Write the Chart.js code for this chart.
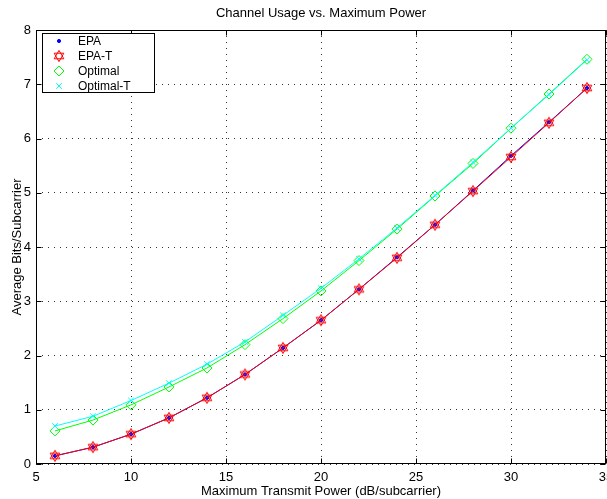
<!DOCTYPE html>
<html lang="en">
<head>
<meta charset="UTF-8">
<title>Channel Usage vs. Maximum Power</title>
<script src="https://cdn.jsdelivr.net/npm/chart.js"></script>
<style>
    body{ margin:0; padding:0; background:#fff; }
    .wrap{ width:607px; height:499px; }
</style>
</head>
<body>
<div class="wrap"><canvas id="chart" width="607" height="499"></canvas></div>
<script>
/* data */
const powerDb   = [6, 8, 10, 12, 14, 16, 18, 20, 22, 24, 26, 28, 30, 32, 34];
const epa       = [0.15, 0.31, 0.55, 0.85, 1.22, 1.65, 2.14, 2.65, 3.22, 3.81, 4.41, 5.04, 5.68, 6.30, 6.93];
const epaT      = [0.15, 0.31, 0.55, 0.85, 1.22, 1.65, 2.14, 2.65, 3.22, 3.80, 4.41, 5.03, 5.66, 6.29, 6.93];
const optimal   = [0.61, 0.81, 1.09, 1.42, 1.77, 2.20, 2.68, 3.19, 3.75, 4.33, 4.94, 5.54, 6.19, 6.82, 7.46];
const optimalT  = [0.70, 0.88, 1.17, 1.49, 1.84, 2.25, 2.74, 3.24, 3.78, 4.35, 4.95, 5.56, 6.19, 6.81, 7.45];
const xTicks    = [5, 10, 15, 20, 25, 30, 35];
const yTicks    = [0, 1, 2, 3, 4, 5, 6, 7, 8];
const titleText = 'Channel Usage vs. Maximum Power';

const FONT = "'Liberation Sans', Arial, sans-serif";

/* hexagram marker (outline) */
function hexagram(color){
    const c = document.createElement('canvas');
    c.width = 14; c.height = 14;
    const g = c.getContext('2d');
    g.strokeStyle = color; g.lineWidth = 1;
    const r = 5.6, cx = 7, cy = 7;
    [-90, 90].forEach(a0 => {
        g.beginPath();
        for(let k=0;k<3;k++){
            const a = (a0 + k*120) * Math.PI/180;
            const px = cx + r*Math.cos(a), py = cy + r*Math.sin(a);
            k ? g.lineTo(px,py) : g.moveTo(px,py);
        }
        g.closePath(); g.stroke();
    });
    return c;
}
const star = hexagram('#ff0000');

const pts = arr => arr.map((v,i)=>({x:powerDb[i], y:v}));

const series = [
    {label:'EPA',       data:pts(epa),      borderColor:'#0000ff', backgroundColor:'#0000ff',
     pointStyle:'circle', pointRadius:1.6, order:2},
    {label:'EPA-T',     data:pts(epaT),     borderColor:'#ff0000', backgroundColor:'transparent',
     pointStyle:star, pointRadius:6, order:1},
    {label:'Optimal',   data:pts(optimal),  borderColor:'#00ff00', backgroundColor:'transparent',
     pointStyle:'rectRot', pointRadius:5, order:4},
    {label:'Optimal-T', data:pts(optimalT), borderColor:'#00ffff', backgroundColor:'transparent',
     pointStyle:'crossRot', pointRadius:4, order:3}
];

/* MATLAB-ish box, inward ticks, title, legend */
const axesBox = {
    id:'axesBox',
    afterDraw(chart){
        const {ctx, chartArea:a, scales:{x, y}} = chart;
        ctx.save();
        ctx.strokeStyle = '#000'; ctx.lineWidth = 1;
        const L = Math.round(a.left)+0.5, R = Math.round(a.right)-0.5,
              T = Math.round(a.top)+0.5,  B = Math.round(a.bottom)-0.5;
        ctx.strokeRect(L, T, R-L, B-T);
        ctx.beginPath();
        xTicks.forEach(v => {
            const px = Math.round(x.getPixelForValue(v))+0.5;
            ctx.moveTo(px, B); ctx.lineTo(px, B-5);
            ctx.moveTo(px, T); ctx.lineTo(px, T+5);
        });
        yTicks.forEach(v => {
            const py = Math.round(y.getPixelForValue(v))+0.5;
            ctx.moveTo(L, py); ctx.lineTo(L+5, py);
            ctx.moveTo(R, py); ctx.lineTo(R-5, py);
        });
        ctx.stroke();

        /* title centred over the axes */
        ctx.fillStyle = '#000';
        ctx.font = '13px ' + FONT;
        ctx.textAlign = 'center';
        ctx.textBaseline = 'middle';
        ctx.fillText(titleText, (a.left + a.right)/2, 13.5);

        /* legend */
        const bx = 42.5, by = 33.5, bw = 112, bh = 59;
        ctx.fillStyle = '#fff';
        ctx.fillRect(bx, by, bw, bh);
        ctx.strokeRect(bx, by, bw, bh);
        ctx.textAlign = 'left';
        ctx.font = '12px ' + FONT;
        series.forEach((s,i) => {
            const yy = 41 + i*15;
            ctx.fillStyle = s.backgroundColor;
            ctx.strokeStyle = s.borderColor;
            Chart.helpers.drawPoint(ctx, {
                pointStyle:s.pointStyle, radius:s.pointRadius, rotation:0, borderWidth:1
            }, 59, yy);
            ctx.fillStyle = '#000';
            ctx.fillText(s.label, 78, yy+1);
        });
        ctx.restore();
    }
};

new Chart(document.getElementById('chart'), {
    type:'line',
    data:{
        datasets: series.map(s => ({
            ...s,
            borderWidth:1,
            pointBorderWidth:1,
            pointBorderColor:s.borderColor,
            pointBackgroundColor:s.backgroundColor,
            fill:false,
            tension:0
        }))
    },
    options:{
        responsive:false,
        animation:false,
        layout:{ autoPadding:false, padding:{left:0, right:1, top:30, bottom:0} },
        plugins:{
            legend:{ display:false },
            tooltip:{ enabled:false },
            title:{ display:false }
        },
        scales:{
            x:{
                type:'linear', min:5, max:35,
                afterBuildTicks(s){ s.ticks = xTicks.map(v=>({value:v})); },
                afterFit(s){ s.height = 35; s.paddingLeft = 0; s.paddingRight = 0; },
                grid:{ color:'rgba(0,0,0,0.8)', drawTicks:false, lineWidth:1 },
                border:{ display:false, dash:[1,5] },
                ticks:{ color:'#000', padding:6, font:{ family:FONT, size:13 }, maxRotation:0 },
                title:{ display:true, text:'Maximum Transmit Power (dB/subcarrier)', color:'#000',
                        font:{ family:FONT, size:13 }, padding:{ top:0, bottom:0 } }
            },
            y:{
                type:'linear', min:0, max:8,
                afterBuildTicks(s){ s.ticks = yTicks.map(v=>({value:v})); },
                afterFit(s){ s.width = 36; s.paddingTop = 0; s.paddingBottom = 0; },
                grid:{ color:'rgba(0,0,0,0.8)', drawTicks:false, lineWidth:1 },
                border:{ display:false, dash:[1,5] },
                ticks:{ color:'#000', padding:5, font:{ family:FONT, size:13 } },
                title:{ display:true, text:'Average Bits/Subcarrier', color:'#000',
                        font:{ family:FONT, size:13 }, padding:{ top:10, bottom:0 } }
            }
        }
    },
    plugins:[axesBox]
});
</script>
</body>
</html>
